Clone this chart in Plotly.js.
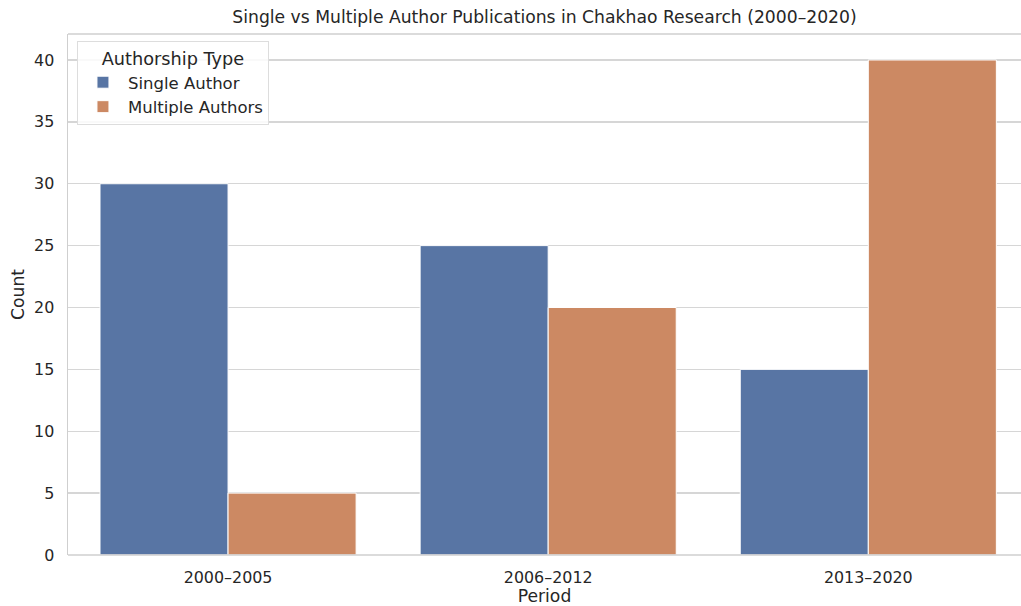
<!DOCTYPE html>
<html>
<head>
<meta charset="utf-8">
<script src="https://cdn.plot.ly/plotly-3.0.1.min.js"></script>
<style>html,body{margin:0;padding:0;background:#fff;}#chart{width:1021px;height:606px;}</style>
</head>
<body>
<div id="chart"></div>
<script>
const periods = ["2000–2005", "2006–2012", "2013–2020"];
const singleAuthor = [30, 25, 15];
const multipleAuthors = [5, 20, 40];
const yTicks = [0, 5, 10, 15, 20, 25, 30, 35, 40];

const font = "DejaVu Sans, sans-serif";
const txt = "#262626";

const traces = [
  {type: "bar", name: "Single Author", x: periods, y: singleAuthor,
   marker: {color: "#5875a4", line: {color: "#ffffff", width: 1}}},
  {type: "bar", name: "Multiple Authors", x: periods, y: multipleAuthors,
   marker: {color: "#cc8963", line: {color: "#ffffff", width: 1}}}
];

const layout = {
  width: 1021, height: 606,
  margin: {l: 68, r: 0, t: 34, b: 51},
  paper_bgcolor: "#ffffff", plot_bgcolor: "#ffffff",
  font: {family: font, color: txt, size: 16},
  barmode: "group", bargap: 0.2, bargroupgap: 0,
  title: {text: "Single vs Multiple Author Publications in Chakhao Research (2000–2020)",
          font: {size: 17.2, color: txt, family: font}, x: 0.5, xanchor: "center", y: 0.972, yanchor: "middle", xref: "paper"},
  xaxis: {
    type: "category", range: [-0.5, 2.477],
    showgrid: false, zeroline: false, showline: false,
    ticks: "", tickfont: {size: 15.9, color: txt}, ticklabelstandoff: 11,
    title: {text: "Period", font: {size: 17.2, color: txt}, standoff: 6}
  },
  yaxis: {
    range: [0, 42.1], tickvals: yTicks, ticktext: yTicks.map(String),
    showgrid: true, gridcolor: "#d6d6d6", gridwidth: 1.3,
    zeroline: false, showline: true, linecolor: "#cfcfcf", linewidth: 1.5, mirror: false,
    ticks: "", ticklen: 0, tickfont: {size: 15.9, color: txt}, ticklabelstandoff: 9,
    title: {text: "Count", font: {size: 17.2, color: txt}, standoff: 5}
  },
  legend: {
    x: 0.0094, y: 0.9866, xanchor: "left", yanchor: "top",
    bgcolor: "rgba(255,255,255,0.85)", bordercolor: "#dddddd", borderwidth: 1,
    title: {text: "Authorship Type", font: {size: 17.7, color: txt}, side: "top center"},
    font: {size: 16.5, color: txt}, tracegroupgap: 0, itemwidth: 40
  },
  shapes: [
    {type: "line", xref: "paper", yref: "paper", x0: 0, x1: 1, y0: 1, y1: 1,
     line: {color: "#cfcfcf", width: 1.5}},
    {type: "line", xref: "paper", yref: "paper", x0: 0, x1: 1, y0: 0, y1: 0,
     line: {color: "#cfcfcf", width: 1.5}}
  ]
};

Plotly.newPlot("chart", traces, layout, {displayModeBar: false, staticPlot: true});
</script>
</body>
</html>
